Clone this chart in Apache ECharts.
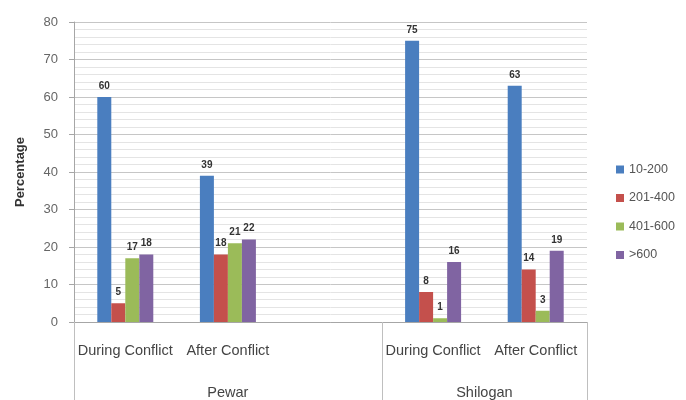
<!DOCTYPE html>
<html>
<head>
<meta charset="utf-8">
<script src="https://cdn.jsdelivr.net/npm/echarts@6/dist/echarts.min.js"></script>
<style>
  html, body { margin: 0; padding: 0; background: #fff; }
  #chart { width: 686px; height: 400px; }
</style>
</head>
<body>
<div id="chart"></div>
<script>
// Periods within each site; the blank slot separates the two sites
const periods = ['During Conflict', 'After Conflict', '', 'During Conflict', 'After Conflict'];
const sites = ['Pewar', 'Shilogan'];
// slot ranges (in category units) each site spans on the lower axis
const siteBounds = [0, 3, 5];
const siteCenters = [1.5, 4];

const seriesNames = ['10-200', '201-400', '401-600', '>600'];
const range10to200  = [60, 39, '-', 75, 63];
const range201to400 = [5, 18, '-', 8, 14];
const range401to600 = [17, 21, '-', 1, 3];
const rangeOver600  = [18, 22, '-', 16, 19];

const yTicks = { min: 0, max: 80, interval: 10 };

const colors = ['#4A7EBF', '#C4504C', '#9BBB59', '#8064A2'];
const font = 'Liberation Sans, Arial, sans-serif';

const chart = echarts.init(document.getElementById('chart'), null, { renderer: 'canvas' });

function barSeries(name, data, color) {
  return {
    name: name,
    type: 'bar',
    xAxisIndex: 0,
    data: data,
    barWidth: 14,
    barGap: '0%',
    itemStyle: { color: color },
    label: {
      show: true,
      position: 'top',
      distance: 6,
      fontSize: 10,
      fontWeight: 'bold',
      color: '#333',
      fontFamily: font
    }
  };
}

chart.setOption({
  animation: false,
  backgroundColor: '#fff',
  color: colors,
  grid: { left: 74, right: 99, top: 22, bottom: 78, containLabel: false },
  legend: {
    orient: 'vertical',
    left: 611,
    top: 158,
    itemWidth: 8,
    itemHeight: 8,
    itemGap: 15.5,
    icon: 'rect',
    textStyle: { fontSize: 12.5, color: '#555', fontFamily: font },
    data: seriesNames
  },
  xAxis: [
    {
      type: 'category',
      data: periods,
      position: 'bottom',
      axisLine: { show: true, lineStyle: { color: '#a6a6a6' } },
      axisTick: { show: false },
      axisLabel: { margin: 21, fontSize: 14.5, color: '#444', fontFamily: font, interval: 0 },
      splitLine: { show: false }
    },
    {
      type: 'value',
      min: siteBounds[0],
      max: siteBounds[siteBounds.length - 1],
      position: 'bottom',
      axisLine: { show: false },
      axisTick: {
        show: true,
        customValues: siteBounds,
        length: 78,
        lineStyle: { color: '#bfbfbf' }
      },
      axisLabel: {
        show: true,
        customValues: siteCenters,
        formatter: function (v) { return sites[siteCenters.indexOf(v)]; },
        margin: 63,
        fontSize: 14.5,
        color: '#444',
        fontFamily: font
      },
      splitLine: { show: false }
    }
  ],
  yAxis: {
    type: 'value',
    min: yTicks.min,
    max: yTicks.max,
    interval: yTicks.interval,
    name: 'Percentage',
    nameLocation: 'middle',
    nameGap: 47,
    nameRotate: 90,
    nameTextStyle: { fontSize: 13, fontWeight: 'bold', color: '#333', fontFamily: font },
    axisLine: { show: true, lineStyle: { color: '#a6a6a6' } },
    axisTick: { show: true, length: 5, lineStyle: { color: '#a6a6a6' } },
    axisLabel: { margin: 16, fontSize: 13, color: '#666', fontFamily: font },
    splitLine: { show: true, lineStyle: { color: '#c6c6c6' } },
    minorTick: { show: false, splitNumber: 5 },
    minorSplitLine: { show: true, lineStyle: { color: '#e4e4e4' } }
  },
  series: [
    barSeries(seriesNames[0], range10to200, colors[0]),
    barSeries(seriesNames[1], range201to400, colors[1]),
    barSeries(seriesNames[2], range401to600, colors[2]),
    barSeries(seriesNames[3], rangeOver600, colors[3])
  ]
});
</script>
</body>
</html>
